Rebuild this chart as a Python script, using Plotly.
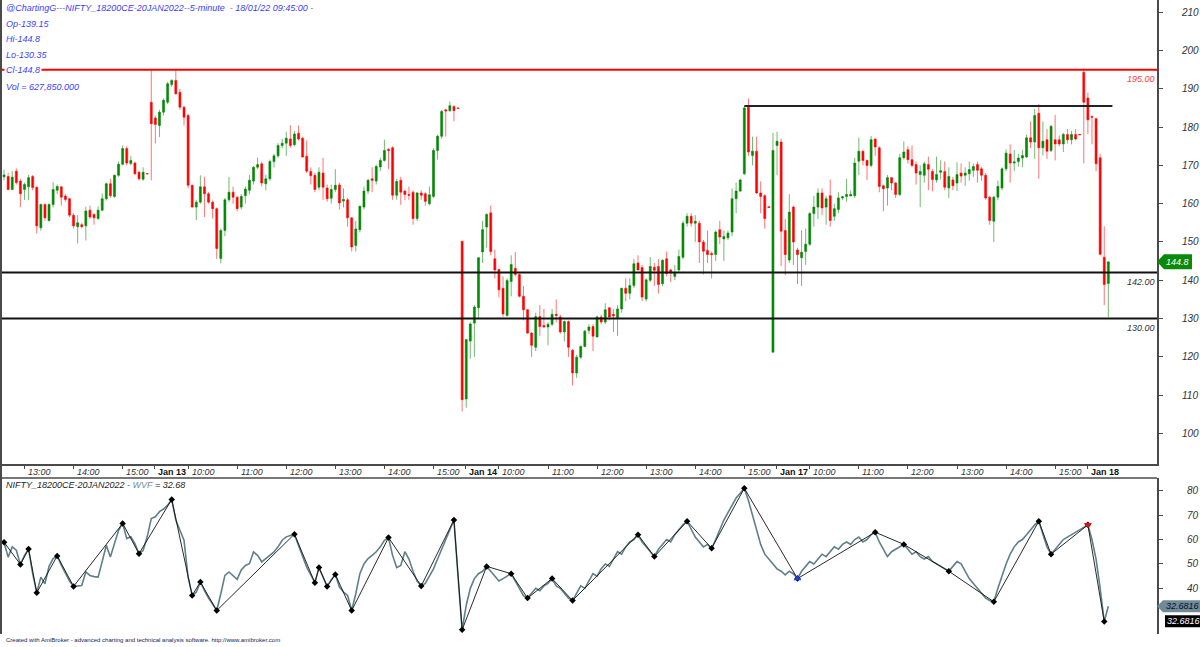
import plotly.graph_objects as go

# ---------------- DATA ----------------
# Jan 12 (12:35 - 15:30)
j12_open = [167.0,167.1,163.7,168.5,165.9,163.7,164.4,167.1,164.3,153.7,159.8,155.6,159.8,163.5,164.4,162.0,161.3,157.0,154.0,154.5,154.2,158.3,157.2,156.1,158.3,161.3,165.2,161.9,167.4,170.3,174.4,170.5,170.6,168.2,166.4,167.9]
j12_high = [168.9,168.0,168.5,169.2,166.5,165.5,167.5,167.5,164.5,160.0,160.0,160.1,165.6,165.0,164.6,162.5,161.5,157.5,157.0,155.0,159.2,159.5,157.5,159.3,162.7,165.5,166.5,167.6,171.0,175.2,175.0,172.5,171.0,168.5,169.5,168.0]
j12_low = [166.1,163.5,163.5,165.0,159.1,161.0,160.9,163.5,152.2,153.0,155.5,155.3,159.0,162.5,159.5,160.5,156.5,153.5,149.6,153.5,150.4,156.0,154.5,155.8,158.0,160.8,161.5,161.5,167.0,170.0,170.0,170.0,167.5,166.0,166.0,167.7]
j12_close = [167.5,163.7,166.9,165.5,162.6,165.0,166.8,164.2,154.2,159.8,156.3,159.8,163.7,164.5,161.7,161.1,157.0,154.2,155.0,154.0,158.1,156.5,156.3,158.3,161.3,165.2,162.1,167.4,170.3,174.4,170.6,171.3,167.8,166.5,168.2,167.8]

# Jan 13 (09:15 - 15:30)
j13_open = [186.5,182.4,180.4,183.9,186.5,191.1,192.2,189.1,185.2,183.0,164.8,159.1,160.4,164.4,162.6,160.4,158.7,145.7,153.0,161.0,163.0,161.7,159.1,162.1,163.5,165.9,169.5,170.4,165.2,166.5,171.0,172.5,175.2,175.8,176.9,175.4,178.4,177.1,172.4,168.4,167.4,164.3,168.0,164.1,161.4,163.7,164.9,160.7,161.0,156.3,149.1,153.2,159.1,163.3,166.5,165.9,169.6,171.3,174.2,174.6,162.2,166.1,163.3,162.4,163.0,156.1,162.8,162.6,160.0,161.9,173.9,177.6,184.5,184.3,185.4,185.0]
j13_high = [195.2,183.0,184.5,187.5,191.8,192.5,195.2,190.0,185.5,183.5,165.0,161.0,167.4,167.0,163.0,160.8,159.0,153.5,161.5,167.0,164.5,162.0,162.5,164.5,167.5,169.8,172.0,171.0,167.5,171.5,173.0,175.8,177.0,178.8,180.5,179.0,180.4,177.5,176.5,169.5,168.0,169.5,172.0,165.0,165.0,169.0,165.5,164.0,161.5,156.5,155.5,159.5,164.5,166.5,169.5,170.2,172.0,176.7,174.5,175.0,166.5,167.0,163.5,164.5,163.5,163.0,163.5,163.0,164.5,174.5,178.0,184.5,184.7,186.7,185.7,185.1]
j13_low = [166.1,175.7,177.4,183.0,186.0,190.5,188.5,184.5,180.4,164.0,159.0,155.7,160.0,156.5,160.0,156.1,145.6,144.4,151.5,160.5,160.0,158.0,158.5,160.0,162.5,165.0,169.0,164.5,163.5,166.0,169.5,172.0,174.5,172.5,174.5,175.0,176.5,172.0,168.0,165.0,163.0,163.5,161.0,160.5,160.0,163.0,158.5,159.0,154.0,147.5,147.5,152.5,158.5,162.5,163.0,165.0,168.5,171.0,169.0,161.0,161.0,159.7,161.0,161.0,154.5,155.5,161.0,159.5,159.5,161.5,171.5,177.0,177.5,184.0,181.5,184.9]
j13_close = [180.9,180.7,183.9,187.0,191.3,192.2,188.7,185.2,182.6,164.8,159.1,160.4,164.4,162.6,160.4,158.7,148.3,153.0,161.0,163.0,161.7,158.7,161.9,163.8,166.1,169.5,170.2,165.4,166.5,171.0,172.5,175.2,175.8,177.1,175.2,178.2,176.9,172.2,168.5,167.3,163.7,168.2,164.3,161.3,163.7,164.8,160.2,161.1,156.3,148.7,153.4,159.3,163.3,166.1,166.1,169.7,171.3,173.9,173.9,162.2,165.8,163.0,162.4,162.2,156.1,162.8,162.2,160.6,162.3,173.9,177.6,184.1,184.2,185.6,184.3,184.9]

# Jan 14 (09:15 - 15:30)
j14_open = [150.2,109.0,124.1,128.8,132.8,147.4,153.9,157.6,145.6,142.8,137.9,130.8,139.7,143.1,141.5,135.8,132.3,126.2,122.5,130.5,128.2,127.8,128.5,131.1,130.4,126.5,129.2,121.7,115.8,119.9,122.7,126.9,127.9,125.2,130.4,129.1,132.8,131.1,130.2,132.5,137.9,136.6,138.6,144.5,143.3,135.1,140.0,143.4,143.6,139.1,145.6,142.7,141.0,142.7,146.0,154.9,156.7,154.9,154.9,150.0,147.8,147.0,146.7,153.2,150.8,151.1,152.6,161.3,163.3,167.8,185.2,172.6,173.7,162.8,162.1,159.2]
j14_high = [150.2,124.5,129.0,133.5,146.0,155.5,157.5,159.5,148.0,143.0,141.0,140.5,146.5,147.4,141.8,138.5,132.5,126.5,131.5,133.5,132.5,129.0,132.5,135.0,131.0,129.5,129.5,122.0,120.5,123.0,127.0,128.5,128.5,130.8,131.0,134.0,133.0,132.5,133.5,138.0,140.5,140.5,145.5,146.5,144.0,140.5,146.0,144.5,145.5,145.5,147.5,143.0,144.0,148.0,155.5,157.5,157.5,157.0,155.5,150.5,153.0,147.5,153.0,155.5,153.0,153.0,164.0,165.5,166.5,185.5,187.5,177.5,177.5,165.8,162.5,159.3]
j14_low = [105.7,106.7,119.5,120.0,130.0,144.5,148.5,146.5,140.5,135.5,130.5,130.5,135.8,141.0,135.5,129.5,126.0,120.0,121.5,125.5,127.5,123.0,128.0,129.0,126.0,124.0,120.0,112.5,114.5,119.5,122.5,126.0,121.5,125.0,128.5,128.5,129.5,126.5,125.5,131.5,134.5,135.0,138.0,142.5,134.5,134.5,139.5,138.5,136.5,138.5,141.0,139.5,140.0,142.0,145.5,154.0,154.0,150.0,144.5,141.5,144.5,140.5,145.0,149.5,145.0,150.5,151.5,157.5,163.0,167.5,172.5,170.0,162.5,157.5,153.5,158.9]
j14_close = [108.8,124.5,128.6,133.0,145.9,153.2,157.2,147.5,142.7,137.5,131.2,139.9,144.1,141.5,135.8,132.3,126.2,123.0,130.5,127.9,127.8,128.5,131.1,130.8,126.5,129.2,122.5,115.8,119.9,122.7,126.7,127.8,125.4,130.4,129.1,132.3,130.4,130.7,132.5,137.9,136.6,138.6,144.3,142.7,135.6,140.1,143.6,142.6,138.9,145.2,141.7,141.9,141.9,146.2,154.9,156.7,154.9,155.4,150.0,147.6,146.7,146.7,152.6,151.3,151.4,152.3,161.3,163.3,166.2,185.0,173.5,173.7,162.8,161.9,156.1,159.0]

# Jan 17 (09:15 - 15:30)
j17_open = [121.2,175.2,176.1,153.0,145.3,159.1,147.9,145.9,147.5,149.4,157.4,159.1,162.8,159.1,162.1,156.7,158.5,161.5,161.9,162.0,162.1,171.1,173.7,171.3,170.0,176.9,174.6,164.7,164.1,166.8,165.4,162.4,172.0,174.1,171.5,170.2,167.6,167.4,170.2,168.4,166.2,168.2,168.4,164.1,166.2,165.4,168.0,167.4,167.8,168.7,170.2,169.1,167.4,161.7,155.4,161.7,164.1,169.1,173.0,170.6,171.0,171.9,172.2,177.2,176.1,183.6,174.6,176.7,173.9,176.7,176.7,175.6,178.1,176.7,178.1,178.1]
j17_high = [178.5,178.8,177.0,156.0,162.5,159.5,148.5,153.0,153.5,157.8,162.0,164.0,164.0,162.0,166.3,160.0,163.0,162.0,166.5,163.5,172.0,177.3,174.0,171.5,177.7,177.0,175.0,165.0,167.5,167.0,165.7,173.0,176.3,175.0,175.2,171.0,170.0,171.0,172.3,169.0,172.3,171.3,171.0,169.5,167.0,170.8,170.5,169.5,171.0,170.5,171.0,169.6,168.0,162.0,162.0,166.0,169.5,174.2,175.5,174.0,173.0,174.0,178.0,181.5,184.7,186.0,181.5,179.5,180.5,183.2,177.8,178.5,179.5,179.0,179.5,178.2]
j17_low = [121.2,167.5,143.7,141.3,144.5,144.0,139.0,138.5,144.0,149.0,154.0,156.0,157.0,154.5,154.0,155.5,157.5,161.0,160.5,162.0,161.5,167.5,170.0,166.2,169.5,172.5,163.0,158.0,159.5,163.5,161.5,162.0,171.5,170.5,169.5,165.0,159.1,165.5,163.5,163.2,165.5,166.3,163.5,161.5,163.5,163.3,165.5,164.7,166.0,167.0,165.5,166.0,161.0,154.5,150.0,161.0,163.5,168.5,165.5,168.5,169.7,169.5,172.0,174.5,171.7,166.5,172.6,171.7,173.5,171.3,175.0,173.5,175.7,175.5,176.5,177.9]
j17_close = [173.9,176.3,152.8,146.7,157.8,150.0,146.7,147.3,149.4,157.4,159.1,162.8,158.9,161.3,155.6,158.7,161.5,161.8,162.4,162.4,170.6,173.7,171.3,170.0,176.7,174.8,164.5,163.9,166.8,165.4,162.4,172.0,173.5,171.5,170.0,168.0,168.4,170.4,169.0,166.3,167.6,168.6,164.3,167.1,164.7,167.6,167.2,168.0,168.9,169.7,168.7,167.4,161.5,155.6,161.7,164.5,169.1,173.2,170.6,170.9,171.9,172.6,177.2,176.1,183.0,174.6,176.3,173.7,180.2,175.6,175.6,178.1,176.7,178.1,176.9,178.0]

# Jan 18 (09:15 - 09:45)
j18_open = [194.3,187.6,182.8,182.2,172.0,146.0,139.15]
j18_high = [195.2,189.0,183.0,182.5,173.0,154.1,144.8]
j18_low = [170.5,178.2,175.5,168.5,146.5,133.5,130.35]
j18_close = [186.5,181.9,182.6,170.4,146.8,138.9,144.8]

opens = j12_open + j13_open + j14_open + j17_open + j18_open
highs = j12_high + j13_high + j14_high + j17_high + j18_high
lows = j12_low + j13_low + j14_low + j17_low + j18_low
closes = j12_close + j13_close + j14_close + j17_close + j18_close
bars = list(range(len(closes)))

# WVF indicator values (lower pane)
wvf = [58.9, 52.8, 57.0, 55.6, 49.8, 53.5, 56.1, 46.0, 38.2, 44.6,
       41.9, 49.0, 52.2, 53.3, 49.5, 46.0, 43.0, 40.8, 41.0, 41.2,
       46.7, 45.3, 44.8, 44.6, 51.0, 57.6, 52.8, 58.0, 63.8, 66.6,
       60.4, 61.1, 58.3, 54.2, 55.5, 61.1, 68.6, 69.3, 71.4, 72.5,
       74.1, 76.4, 68.0, 63.8, 59.7, 44.6, 37.1, 38.4, 42.6, 39.1,
       36.0, 33.6, 30.9, 37.8, 45.3, 46.7, 45.0, 43.7, 47.5, 49.4,
       50.1, 54.9, 53.5, 50.8, 52.2, 53.5, 54.9, 57.0, 59.7, 61.1,
       61.5, 62.2, 57.6, 52.8, 48.7, 45.5, 42.3, 48.5, 44.6, 40.8,
       43.5, 45.7, 40.5, 38.5, 37.1, 30.9, 37.8, 46.0, 50.0, 52.2,
       53.5, 55.0, 57.0, 59.7, 60.8, 53.5, 48.5, 49.4,
       55, 52, 47, 43, 41, 42, 45, 48, 52, 56,
       60, 64, 68, 45, 23, 33, 40, 44, 46, 47,
       49, 47, 45, 43, 44, 45, 46, 43, 40, 37,
       36, 38, 40, 39, 41, 42, 44, 41, 40, 38,
       36, 35, 38, 41, 40, 43, 46, 45, 48, 50,
       49, 52, 55, 54, 57, 59, 60, 62, 59, 57,
       55, 53, 56, 58, 60, 59, 62, 64, 66, 67.5,
       64, 61, 59, 57, 58, 56.4, 60, 64, 68, 71,
       74, 77, 79, 81, 76, 70, 64, 58, 54, 52,
       50, 48, 47, 45.5, 47, 46, 44, 47, 49, 51,
       50, 52, 54, 53, 55, 57, 56, 58, 59, 58,
       60, 61, 59, 60, 62, 63, 59, 56, 53, 55,
       56, 57, 58, 56, 54, 55, 53, 52, 53, 51,
       50, 49, 48, 47, 49, 51, 50, 47, 44, 42,
       40, 38, 36, 35, 34.5, 40, 45, 50, 54, 57,
       59, 60, 62, 64, 66, 67.5, 62, 57, 54, 56,
       58, 60, 61, 62, 63, 64, 65, 66, 60, 52,
       40, 26.4, 32.68]

zigzag_bars = [0, 4, 6, 8, 13, 17, 29, 33, 41, 46, 48, 52, 71, 76, 77, 79, 81, 85, 94,
               102, 110, 112, 118, 124, 128, 134, 139, 155, 159, 167, 173, 181, 194,
               213, 220, 231, 242, 253, 256, 265, 269]
buy_bar = [194]
sell_bar = [265]

tick_bars = [5, 17, 29,
             36.8, 45, 57, 69, 81, 93, 105,
             112.8, 121, 133, 145, 157, 169, 181,
             188.8, 197, 209, 221, 233, 245, 257,
             264.8]
tick_labels = ["13:00", "14:00", "15:00",
               "Jan 13", "10:00", "11:00", "12:00", "13:00", "14:00", "15:00",
               "Jan 14", "10:00", "11:00", "12:00", "13:00", "14:00", "15:00",
               "Jan 17", "10:00", "11:00", "12:00", "13:00", "14:00", "15:00",
               "Jan 18"]

price_ticks = [100, 110, 120, 130, 140, 150, 160, 170, 180, 190, 200, 210]
wvf_ticks = [40, 50, 60, 70, 80]

level_red = 195.0
level_res = 185.5
level_res_start = 181
levels_black = [142.0, 130.0]
last_close = 144.8
last_wvf = 32.68

# ---------------- LAYOUT HELPERS ----------------
W, H = 1200, 647
ML, MR, MT, MB = 2, 43, 0, 13
PW, PH = W - ML - MR, H - MT - MB


def pxx(px):
    return (px - ML) / PW


def pxy(py):
    return 1 - (py - MT) / PH


TOP_DOM = [pxy(464), 1.0]
BOT_DOM = [0.0, pxy(478)]
XR = [-0.5, 281.9]
Y1R = [92.0, 213.2]
Y2R = [21.3, 85.2]
u1 = 464 / (Y1R[1] - Y1R[0])             # px per price unit
u2 = (634 - 478) / (Y2R[1] - Y2R[0])     # px per wvf unit

FONT = "Liberation Sans"
AXC = "#4a4a4a"

fig = go.Figure()

fig.add_trace(go.Candlestick(
    x=bars, open=opens, high=highs, low=lows, close=closes,
    xaxis="x", yaxis="y",
    increasing=dict(line=dict(color="rgba(0,128,0,0.55)", width=1), fillcolor="#008c00"),
    decreasing=dict(line=dict(color="rgba(255,0,0,0.55)", width=1), fillcolor="#ff0000"),
    whiskerwidth=0, showlegend=False, hoverinfo="skip"))

fig.add_trace(go.Scatter(
    x=bars, y=wvf, xaxis="x2", yaxis="y2", mode="lines",
    line=dict(color="#5f8088", width=1.6), showlegend=False, hoverinfo="skip"))

fig.add_trace(go.Scatter(
    x=zigzag_bars, y=[wvf[i] for i in zigzag_bars], xaxis="x2", yaxis="y2",
    mode="lines+markers", line=dict(color="#111111", width=0.9),
    marker=dict(symbol="diamond", size=5, color="#000000"),
    showlegend=False, hoverinfo="skip"))

fig.add_trace(go.Scatter(
    x=buy_bar, y=[wvf[i] for i in buy_bar], xaxis="x2", yaxis="y2", mode="markers",
    marker=dict(symbol="triangle-up", size=7, color="#1f3fd0"), showlegend=False, hoverinfo="skip"))
fig.add_trace(go.Scatter(
    x=sell_bar, y=[wvf[i] for i in sell_bar], xaxis="x2", yaxis="y2", mode="markers",
    marker=dict(symbol="triangle-down", size=7, color="#e01010"), showlegend=False, hoverinfo="skip"))

fig.update_layout(
    width=W, height=H, margin=dict(l=ML, r=MR, t=MT, b=MB),
    paper_bgcolor="white", plot_bgcolor="white", showlegend=False,
    hovermode=False,
    xaxis=dict(domain=[0, 1], range=XR, anchor="y", rangeslider=dict(visible=False),
               tickmode="array", tickvals=tick_bars, showticklabels=False,
               ticks="outside", ticklen=3, tickwidth=1, tickcolor=AXC,
               showline=True, linecolor=AXC, linewidth=2, showgrid=False, zeroline=False),
    yaxis=dict(domain=TOP_DOM, range=Y1R, side="right", anchor="x",
               tickmode="array", tickvals=price_ticks, ticktext=["<i>%d</i>" % v for v in price_ticks],
               ticks="outside", ticklen=4, tickcolor=AXC,
               tickfont=dict(family=FONT, size=10, color="#333"), ticklabelstandoff=17,
               showline=True, linecolor=AXC, linewidth=2, showgrid=False, zeroline=False),
    xaxis2=dict(domain=[0, 1], range=XR, anchor="y2", showticklabels=False, ticks="",
                showline=False, showgrid=False, zeroline=False),
    yaxis2=dict(domain=BOT_DOM, range=Y2R, side="right", anchor="x2",
                tickmode="array", tickvals=wvf_ticks, ticktext=["<i>%d</i>" % v for v in wvf_ticks],
                ticks="outside", ticklen=4, tickcolor=AXC,
                tickfont=dict(family=FONT, size=10, color="#333"), ticklabelstandoff=22,
                showline=True, linecolor=AXC, linewidth=2, showgrid=False, zeroline=False),
)

shapes = []
# level lines
shapes.append(dict(type="line", xref="paper", yref="y", x0=0, x1=1, y0=level_red, y1=level_red,
                   line=dict(color="#ff0000", width=2)))
for lv in levels_black:
    shapes.append(dict(type="line", xref="paper", yref="y", x0=0, x1=1, y0=lv, y1=lv,
                       line=dict(color="#111111", width=2)))
shapes.append(dict(type="line", xref="x", yref="y", x0=level_res_start, x1=len(bars), y0=level_res, y1=level_res,
                   line=dict(color="#222222", width=2)))
# frame lines
shapes.append(dict(type="line", xref="paper", yref="paper", x0=pxx(1), x1=pxx(1), y0=pxy(634), y1=1,
                   line=dict(color=AXC, width=2)))
shapes.append(dict(type="line", xref="paper", yref="paper", x0=0, x1=1, y0=BOT_DOM[1], y1=BOT_DOM[1],
                   line=dict(color=AXC, width=1.5)))

# value tags
h1 = 7.5 / u1
xa, xb, xc = pxx(1157), pxx(1164), pxx(1192)
shapes.append(dict(type="path", xref="paper", yref="y",
                   path=f"M {xa},{last_close} L {xb},{last_close + h1} L {xc},{last_close + h1} "
                        f"L {xc},{last_close - h1} L {xb},{last_close - h1} Z",
                   fillcolor="#0a8a0a", line=dict(width=0)))
h2 = 6.0 / u2
xd = pxx(1202)
shapes.append(dict(type="path", xref="paper", yref="y2",
                   path=f"M {xa},{last_wvf} L {pxx(1163)},{last_wvf + h2} L {xd},{last_wvf + h2} "
                        f"L {xd},{last_wvf - h2} L {pxx(1163)},{last_wvf - h2} Z",
                   fillcolor="#6f8b95", line=dict(width=0)))
bk = last_wvf - 15 / u2
shapes.append(dict(type="rect", xref="paper", yref="y2", x0=pxx(1165), x1=xd,
                   y0=bk - h2, y1=bk + h2, fillcolor="#000000", line=dict(width=0)))
fig.update_layout(shapes=shapes)

ann = []
# x-axis labels, placed just right of each tick (AmiBroker style)
for tv, tl in zip(tick_bars, tick_labels):
    is_day = tl.startswith("Jan")
    ann.append(dict(text=("<b>%s</b>" % tl) if is_day else ("<i>%s</i>" % tl),
                    xref="x", yref="paper", x=tv, y=pxy(472), xanchor="left", yanchor="middle",
                    xshift=1.5, showarrow=False,
                    font=dict(family=FONT, size=9, color="#111" if is_day else "#333")))

BLUE = "#3d3dff"
hdr = ["@ChartingG---NIFTY_18200CE-20JAN2022--5-minute  - 18/01/22 09:45:00 -",
       "Op-139.15", "Hi-144.8", "Lo-130.35", "Cl-144.8", "Vol = 627,850.000"]
hdr_y = [8, 24, 39, 55, 70, 87]
for t, yy in zip(hdr, hdr_y):
    ann.append(dict(text="<i>%s</i>" % t, xref="paper", yref="paper", x=pxx(4), y=pxy(yy),
                    xanchor="left", yanchor="middle", showarrow=False,
                    bgcolor="white" if t.startswith("Cl") else None,
                    font=dict(family=FONT, size=9, color=BLUE)))
ann.append(dict(text="<i>NIFTY_18200CE-20JAN2022 - <span style='color:#6f8f99'>WVF</span> = 32.68</i>",
                xref="paper", yref="paper", x=pxx(4), y=pxy(485), xanchor="left", yanchor="middle",
                showarrow=False, font=dict(family=FONT, size=9, color="#222")))
ann.append(dict(text="Created with AmiBroker - advanced charting and technical analysis software. http://www.amibroker.com",
                xref="paper", yref="paper", x=pxx(4), y=pxy(640), xanchor="left", yanchor="middle",
                showarrow=False, font=dict(family=FONT, size=6, color="#1a1a50")))
# level labels
ann.append(dict(text="<i>195.00</i>", xref="paper", yref="y", x=1, y=level_red, xanchor="right",
                yanchor="top", yshift=-2, showarrow=False, font=dict(family=FONT, size=9, color="#ff4040")))
for lv in levels_black:
    ann.append(dict(text="<i>%.2f</i>" % lv, xref="paper", yref="y", x=1, y=lv, xanchor="right",
                    yanchor="top", yshift=-2, showarrow=False, font=dict(family=FONT, size=9, color="#333")))
# tag texts
ann.append(dict(text="<i>%.1f</i>" % last_close, xref="paper", yref="y", x=pxx(1177), y=last_close,
                xanchor="center", yanchor="middle", showarrow=False,
                font=dict(family=FONT, size=9, color="white")))
ann.append(dict(text="<i>32.6816</i>", xref="paper", yref="y2", x=pxx(1182), y=last_wvf,
                xanchor="center", yanchor="middle", showarrow=False,
                font=dict(family=FONT, size=9, color="#0a0a30")))
ann.append(dict(text="<i>32.6816</i>", xref="paper", yref="y2", x=pxx(1183), y=bk,
                xanchor="center", yanchor="middle", showarrow=False,
                font=dict(family=FONT, size=9, color="white")))
fig.update_layout(annotations=ann)

fig.write_html("out.html")
